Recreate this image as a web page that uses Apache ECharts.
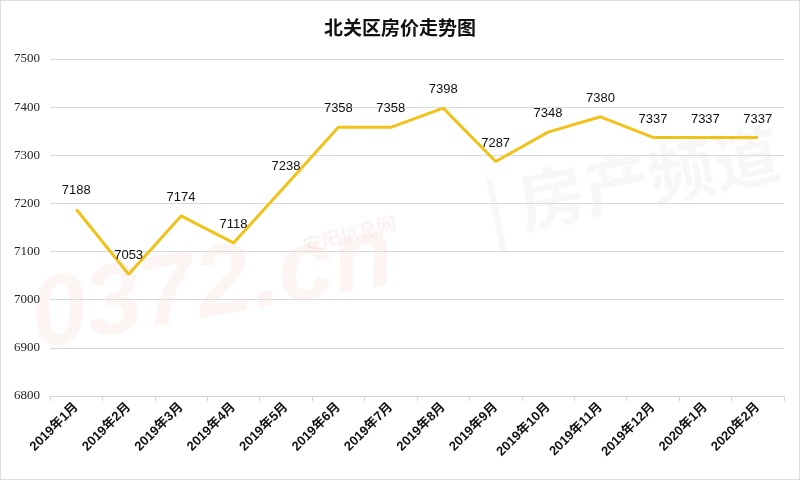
<!DOCTYPE html>
<html>
<head>
<meta charset="utf-8">
<script src="https://cdn.jsdelivr.net/npm/echarts@6/dist/echarts.min.js"></script>
<style>
  html, body { margin: 0; padding: 0; background: #fff; }
  #chart { width: 798px; height: 478px; border: 1px solid #dcdcdc; }
</style>
</head>
<body>
<div id="chart"></div>
<script>
  var months = ['2019年1月', '2019年2月', '2019年3月', '2019年4月', '2019年5月', '2019年6月', '2019年7月',
    '2019年8月', '2019年9月', '2019年10月', '2019年11月', '2019年12月', '2020年1月', '2020年2月'];
  var prices = [7188, 7053, 7174, 7118, 7238, 7358, 7358, 7398, 7287, 7348, 7380, 7337, 7337, 7337];
  var yMin = 6800, yMax = 7500, yStep = 100;

  var myChart = echarts.init(document.getElementById('chart'));
  var option = {
    animation: false,
    title: {
      text: '北关区房价走势图',
      left: 'center',
      top: 12,
      textStyle: {
        fontFamily: 'Noto Sans CJK SC',
        fontSize: 19,
        fontWeight: 'bold',
        color: '#111'
      }
    },
    // 水印
    graphic: [
      {
        type: 'text', left: 22, top: 205, rotation: 0.18, z: 0,
        style: { text: '0372.cn', fontSize: 100, fontWeight: 'bold', fontStyle: 'italic',
          fontFamily: 'Liberation Sans', fill: 'rgba(230,110,110,0.08)' }
      },
      {
        type: 'text', left: 300, top: 212, rotation: 0.25, z: 0,
        style: { text: '安阳信息网', fontSize: 19, fontFamily: 'Noto Sans CJK SC', fill: 'rgba(230,110,110,0.12)' }
      },
      {
        type: 'text', left: 478, top: 118, rotation: 0.2, z: 0,
        style: { text: '| 房产频道', fontSize: 66, fontWeight: 'bold', fontFamily: 'Noto Sans CJK SC',
          fill: 'rgba(150,150,150,0.08)' }
      }
    ],
    grid: {
      left: 49,
      right: 15,
      top: 58,
      bottom: 83,
      containLabel: false
    },
    xAxis: {
      type: 'category',
      data: months,
      boundaryGap: true,
      axisLine: { lineStyle: { color: '#d4d4d4', width: 1 } },
      axisTick: { show: true, length: 5, lineStyle: { color: '#d4d4d4' } },
      axisLabel: {
        rotate: 45,
        interval: 0,
        fontSize: 13,
        fontWeight: 'bold',
        fontFamily: 'Liberation Sans, Noto Sans CJK SC',
        color: '#111',
        margin: 9
      }
    },
    yAxis: {
      type: 'value',
      min: yMin,
      max: yMax,
      interval: yStep,
      axisLine: { show: false },
      axisTick: { show: false },
      splitLine: { lineStyle: { color: '#d9d9d9', width: 1 } },
      axisLabel: {
        fontSize: 13,
        fontFamily: 'Liberation Serif',
        color: '#222',
        margin: 10,
        formatter: function (v) { return String(v); }
      }
    },
    series: [
      {
        name: '房价',
        type: 'line',
        data: prices,
        symbol: 'circle',
        symbolSize: 0.1,
        lineStyle: { color: '#F2C21B', width: 3 },
        itemStyle: { color: '#F2C21B' },
        label: {
          show: true,
          position: 'top',
          distance: 12,
          fontSize: 13,
          fontFamily: 'Liberation Sans',
          color: '#111'
        },
        z: 5
      }
    ]
  };
  myChart.setOption(option);
</script>
</body>
</html>
